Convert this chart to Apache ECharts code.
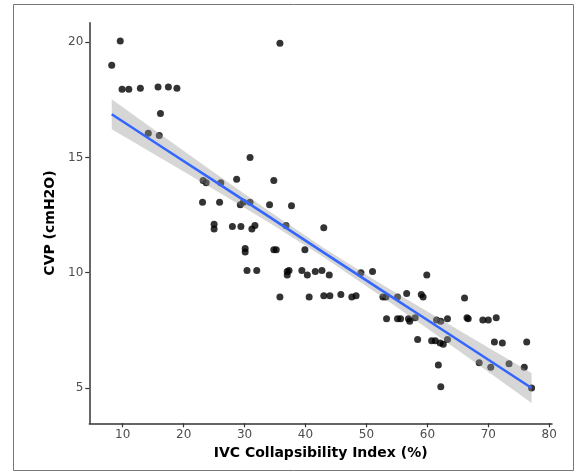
<!DOCTYPE html>
<html>
<head>
<meta charset="utf-8">
<script src="https://cdn.jsdelivr.net/npm/echarts@6/dist/echarts.min.js"></script>
<style>
  html, body { margin: 0; padding: 0; background: #fff; }
  #main { width: 586px; height: 474px; }
</style>
</head>
<body>
<div id="main"></div>
<script>
  // IVC collapsibility index (%) vs CVP (cmH2O)
  var ivcX = [8.2, 9.6, 9.9, 11.0, 12.9, 15.8, 17.5, 18.9, 16.2, 14.2, 16.0,
    35.8, 30.9, 28.7, 34.8,
    23.2, 23.7, 26.1,
    23.1, 25.9, 29.3, 29.8, 30.9, 34.1, 37.7,
    25.0, 25.0, 28.0, 29.4, 31.2, 31.7, 36.8, 43.0,
    30.1, 30.1, 34.8, 35.2, 39.9,
    30.4, 32.0, 37.0, 37.3, 37.0, 39.4, 40.3, 41.6, 42.7, 43.9, 49.1, 51.0,
    35.8, 40.6, 43.0, 44.0, 45.8, 47.6, 48.3, 52.7, 53.2, 55.1,
    59.9, 56.6, 59.0, 59.3, 66.1,
    53.3, 55.1, 55.6, 56.9, 57.1, 58.0, 61.5, 62.2, 63.3, 66.5, 66.7, 69.1, 70.0, 71.3,
    58.4, 60.7, 61.3, 62.1, 62.6, 63.3, 71.0, 72.3, 76.3,
    61.8, 68.5, 70.4, 73.4, 75.9,
    62.2, 77.1];
  var cvpY = [19.0, 20.05, 17.95, 17.95, 18.0, 18.05, 18.05, 18.0, 16.9, 16.05, 15.95,
    19.95, 15.0, 14.05, 14.0,
    14.0, 13.9, 13.9,
    13.05, 13.05, 12.95, 13.05, 13.05, 12.95, 12.9,
    12.1, 11.9, 12.0, 12.0, 11.9, 12.05, 12.05, 11.95,
    11.05, 10.9, 11.0, 11.0, 11.0,
    10.1, 10.1, 10.05, 10.1, 9.9, 10.1, 9.9, 10.05, 10.1, 9.9, 10.0, 10.05,
    8.95, 8.95, 9.0, 9.0, 9.05, 8.95, 9.0, 8.95, 8.95, 8.95,
    9.9, 9.1, 9.05, 8.95, 8.9,
    8.0, 8.0, 8.0, 8.0, 7.9, 8.05, 7.95, 7.9, 8.0, 8.05, 8.0, 7.95, 7.95, 8.05,
    7.1, 7.05, 7.05, 6.95, 6.9, 7.1, 7.0, 6.95, 7.0,
    6.0, 6.1, 5.9, 6.05, 5.9,
    5.05, 5.0];

  // fitted line and its confidence band, read at a few x positions
  var fitX = [8.2, 17, 25, 34, 43, 52, 60, 69, 77.1];
  var fitY = [16.87, 15.35, 13.98, 12.43, 10.87, 9.32, 7.95, 6.40, 5.00];
  var bandUpper = [17.52, 15.85, 14.35, 12.68, 11.07, 9.58, 8.32, 6.91, 5.65];
  var bandLower = [16.22, 14.85, 13.61, 12.18, 10.67, 9.06, 7.58, 5.89, 4.35];

  var xTicks = [10, 20, 30, 40, 50, 60, 70, 80];
  var yTicks = [5, 10, 15, 20];

  var points = ivcX.map(function (x, i) { return [x, cvpY[i]]; });
  var fitLine = fitX.map(function (x, i) { return [x, fitY[i]]; });

  var axisCommon = {
    type: 'value',
    splitLine: { show: false },
    axisLine: { show: true, lineStyle: { color: '#333', width: 1.5 } },
    axisTick: { show: true, length: 4, lineStyle: { color: '#333', width: 1.2 } },
    nameLocation: 'middle',
    nameTextStyle: { fontFamily: 'DejaVu Sans', fontWeight: 'bold', fontSize: 14, color: '#000' }
  };

  var chart = echarts.init(document.getElementById('main'), null, { renderer: 'canvas' });
  chart.setOption({
    animation: false,
    backgroundColor: '#fff',
    grid: { left: 89.3, right: 34, top: 22.7, bottom: 50.7, containLabel: false },
    graphic: [{
      type: 'rect',
      shape: { x: 13.5, y: 4.5, width: 560, height: 466 },
      style: { fill: null, stroke: '#777', lineWidth: 1 },
      silent: true,
      z: -1
    }],
    xAxis: Object.assign({}, axisCommon, {
      min: 4.52,
      max: 80.45,
      name: 'IVC Collapsibility Index (%)',
      nameGap: 22,
      axisTick: Object.assign({}, axisCommon.axisTick, { customValues: xTicks }),
      axisLabel: { customValues: xTicks, margin: 6, fontFamily: 'DejaVu Sans', fontSize: 12, color: '#4d4d4d' }
    }),
    yAxis: Object.assign({}, axisCommon, {
      min: 3.47,
      max: 20.84,
      name: 'CVP (cmH2O)',
      nameGap: 32,
      axisTick: Object.assign({}, axisCommon.axisTick, { customValues: yTicks }),
      axisLabel: { customValues: yTicks, margin: 6, fontFamily: 'DejaVu Sans', fontSize: 12, color: '#4d4d4d' }
    }),
    series: [
      {
        type: 'scatter',
        data: points,
        symbolSize: 7,
        itemStyle: { color: '#000' },
        z: 2
      },
      {
        // confidence band drawn over the points, like geom_smooth
        type: 'custom',
        data: [[fitX[0], fitY[0]]],
        z: 3,
        silent: true,
        renderItem: function (params, api) {
          var pts = [];
          for (var i = 0; i < fitX.length; i++) pts.push(api.coord([fitX[i], bandUpper[i]]));
          for (var j = fitX.length - 1; j >= 0; j--) pts.push(api.coord([fitX[j], bandLower[j]]));
          return {
            type: 'polygon',
            shape: { points: pts },
            style: { fill: 'rgba(153,153,153,0.4)', stroke: null }
          };
        }
      },
      {
        type: 'line',
        data: fitLine,
        showSymbol: false,
        lineStyle: { color: '#3366FF', width: 2.5 },
        z: 4
      }
    ]
  });
</script>
</body>
</html>
